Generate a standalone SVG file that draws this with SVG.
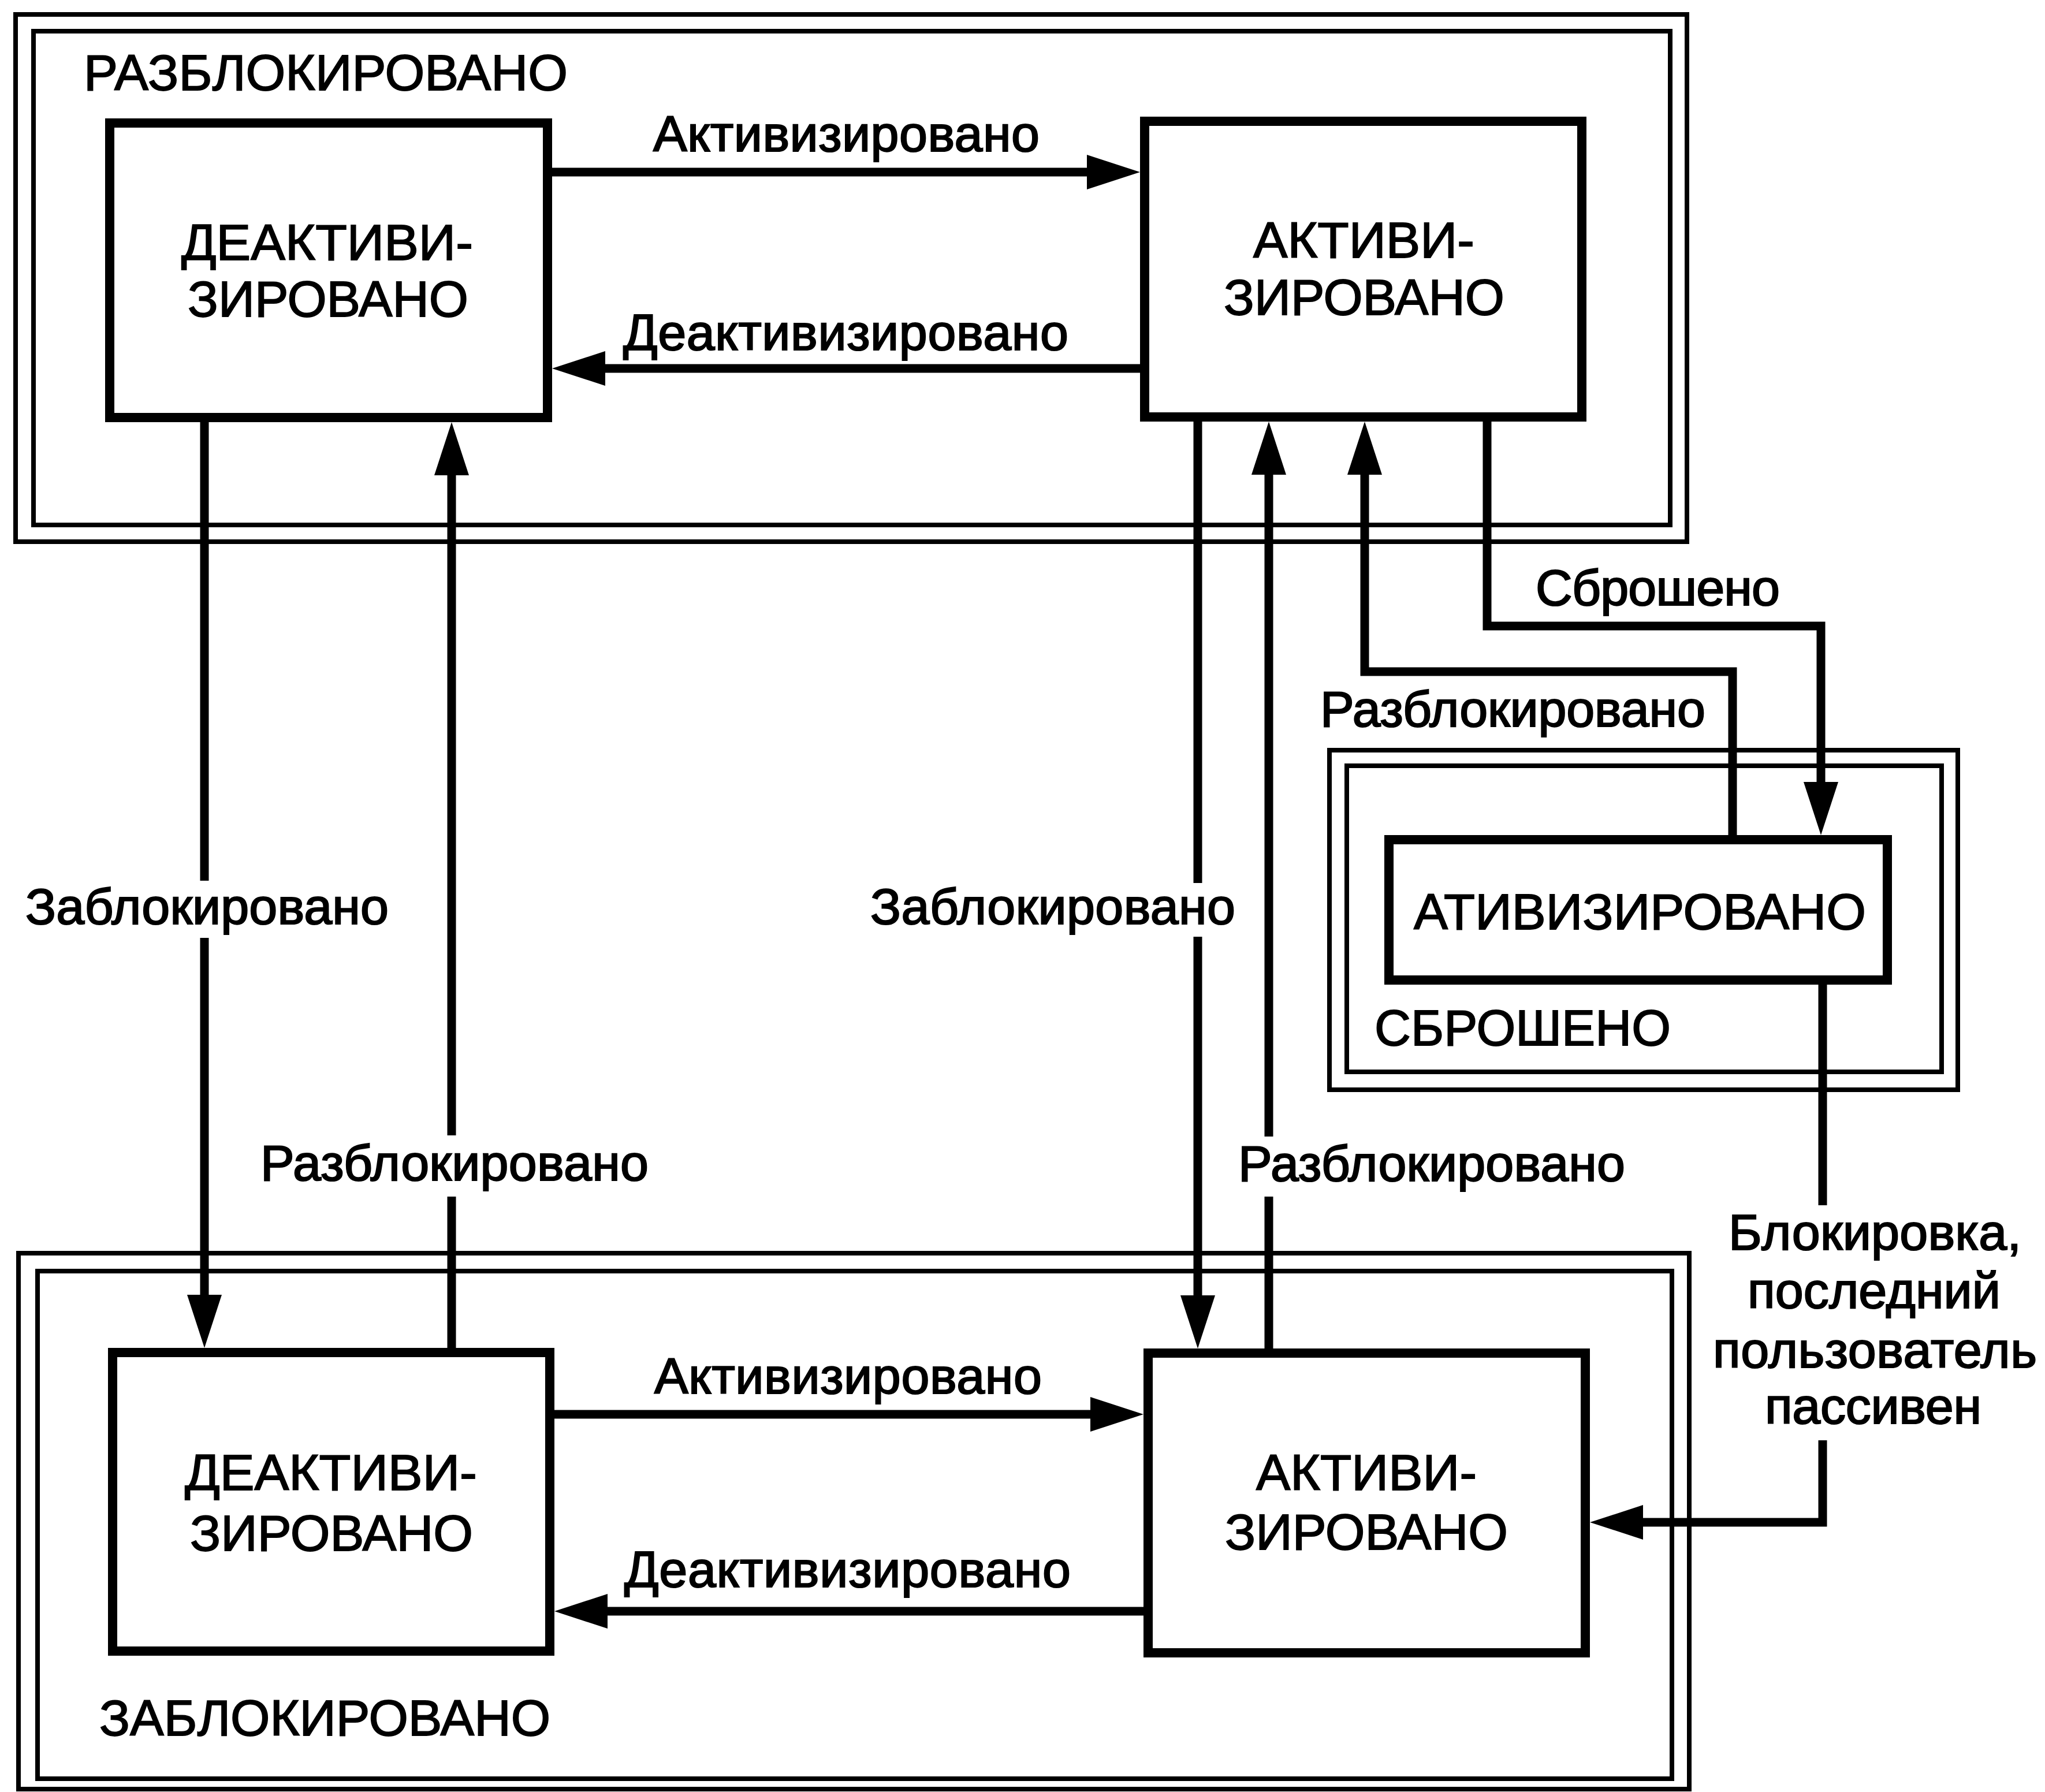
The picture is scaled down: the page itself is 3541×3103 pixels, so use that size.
<svg xmlns="http://www.w3.org/2000/svg" width="3541" height="3103" viewBox="0 0 3541 3103">
<defs>
<style>
.frame{fill:none;stroke:#000;stroke-width:8}
.box{fill:#fff;stroke:#000;stroke-width:16}
.cn{fill:none;stroke:#000;stroke-width:15;stroke-linejoin:miter;stroke-linecap:butt}
.arr{marker-end:url(#ah)}
.t{font-family:"Liberation Sans",Arial,sans-serif;fill:#000}
.up{font-size:88px;stroke:#000;stroke-width:1.8}
.lb{font-size:88px;stroke:#000;stroke-width:2.2}
</style>
<marker id="ah" markerUnits="userSpaceOnUse" markerWidth="100" markerHeight="64" refX="0" refY="30" orient="auto" overflow="visible">
<path d="M0,0 L92,30 L0,60 Z" fill="#000"/>
</marker>
</defs>
<rect width="3541" height="3103" fill="#fff"/>

<g id="state-unlocked">
<rect class="frame" x="27" y="25" width="2894" height="913"/>
<rect class="frame" x="58" y="54" width="2834" height="855"/>
<text class="t up" x="145" y="156" textLength="838" lengthAdjust="spacingAndGlyphs">РАЗБЛОКИРОВАНО</text>
</g>

<g id="state-locked">
<rect class="frame" x="32" y="2170" width="2893" height="928"/>
<rect class="frame" x="65" y="2201" width="2830" height="879"/>
<text class="t up" x="172" y="3005" textLength="781" lengthAdjust="spacingAndGlyphs">ЗАБЛОКИРОВАНО</text>
</g>

<g id="state-reset">
<rect class="frame" x="2302" y="1299" width="1088" height="588"/>
<rect class="frame" x="2332" y="1326" width="1030" height="530"/>
<text class="t up" x="2380" y="1810" textLength="513" lengthAdjust="spacingAndGlyphs">СБРОШЕНО</text>
</g>

<g id="node-deact-unlocked">
<rect class="box" x="190" y="213" width="758" height="510"/>
<text class="t up" x="314" y="450" textLength="505" lengthAdjust="spacingAndGlyphs">ДЕАКТИВИ-</text>
<text class="t up" x="325" y="548" textLength="486" lengthAdjust="spacingAndGlyphs">ЗИРОВАНО</text>
</g>

<g id="node-act-unlocked">
<rect class="box" x="1982" y="210" width="757" height="512"/>
<text class="t up" x="2170" y="446" textLength="383" lengthAdjust="spacingAndGlyphs">АКТИВИ-</text>
<text class="t up" x="2119" y="545" textLength="486" lengthAdjust="spacingAndGlyphs">ЗИРОВАНО</text>
</g>

<g id="node-deact-locked">
<rect class="box" x="195" y="2342" width="757" height="517"/>
<text class="t up" x="320" y="2580" textLength="506" lengthAdjust="spacingAndGlyphs">ДЕАКТИВИ-</text>
<text class="t up" x="329" y="2685" textLength="490" lengthAdjust="spacingAndGlyphs">ЗИРОВАНО</text>
</g>

<g id="node-act-locked">
<rect class="box" x="1988" y="2343" width="757" height="519"/>
<text class="t up" x="2175" y="2580" textLength="382" lengthAdjust="spacingAndGlyphs">АКТИВИ-</text>
<text class="t up" x="2121" y="2683" textLength="490" lengthAdjust="spacingAndGlyphs">ЗИРОВАНО</text>
</g>

<g id="node-act-reset">
<rect class="box" x="2405" y="1454" width="863" height="243"/>
<text class="t up" x="2448" y="1609" textLength="783" lengthAdjust="spacingAndGlyphs">АТИВИЗИРОВАНО</text>
</g>

<g id="connectors">
<path class="cn arr" d="M956 298 H1882"/>
<path class="cn arr" d="M1974 638 H1048"/>
<path class="cn" d="M354 731 V1525"/>
<path class="cn arr" d="M354 1624 V2242"/>
<path class="cn" d="M782 2334 V2072"/>
<path class="cn arr" d="M782 1966 V823"/>
<path class="cn" d="M2074 730 V1529"/>
<path class="cn arr" d="M2074 1622 V2243"/>
<path class="cn" d="M2197 2335 V2072"/>
<path class="cn arr" d="M2197 1968 V822"/>
<path class="cn arr" d="M3000 1446 V1163 H2363 V822"/>
<path class="cn arr" d="M2575 730 V1084 H3153 V1354"/>
<path class="cn" d="M3156 1705 V2087"/>
<path class="cn arr" d="M3156 2494 V2636 H2845"/>
<path class="cn arr" d="M960 2449 H1888"/>
<path class="cn arr" d="M1980 2790 H1052"/>
</g>

<g id="labels">
<text class="t lb" x="1131" y="262" textLength="669">Активизировано</text>
<text class="t lb" x="1079" y="606" textLength="771">Деактивизировано</text>
<text class="t lb" x="1133" y="2413" textLength="671">Активизировано</text>
<text class="t lb" x="1081" y="2748" textLength="773">Деактивизировано</text>
<text class="t lb" x="44" y="1600" textLength="629">Заблокировано</text>
<text class="t lb" x="451" y="2044" textLength="672">Разблокировано</text>
<text class="t lb" x="1507" y="1600" textLength="632">Заблокировано</text>
<text class="t lb" x="2144" y="2045" textLength="670">Разблокировано</text>
<text class="t lb" x="2659" y="1048" textLength="423">Сброшено</text>
<text class="t lb" x="2286" y="1258" textLength="667">Разблокировано</text>
<text class="t lb" x="2993" y="2164" textLength="507">Блокировка,</text>
<text class="t lb" x="3026" y="2265" textLength="438">последний</text>
<text class="t lb" x="2966" y="2368" textLength="561">пользователь</text>
<text class="t lb" x="3056" y="2465" textLength="375">пассивен</text>
</g>
</svg>
